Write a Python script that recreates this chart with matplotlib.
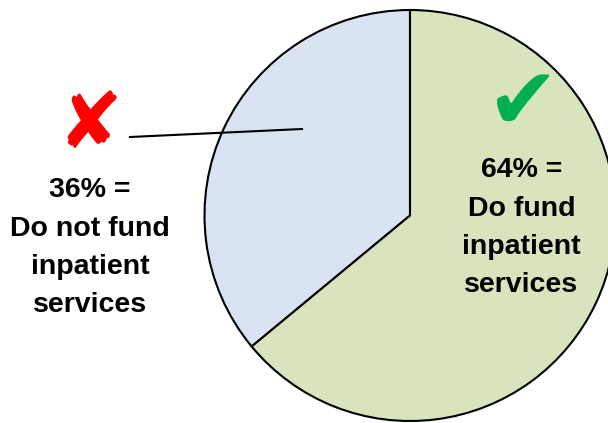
import matplotlib.pyplot as plt

# slice shares (%), first one goes counter-clockwise from the top
shares = [36, 64]
slice_colors = ['#DAE3F3', '#D7E4BD']
left_lines = ['36% =', 'Do not fund', 'inpatient', 'services']
right_lines = ['64% =', 'Do fund', 'inpatient', 'services']

W, H = 608, 423
fig = plt.figure(figsize=(W / 100, H / 100), dpi=100)
ax = fig.add_axes([0, 0, 1, 1])

# pie in pixel-ish coordinates (y measured from the bottom)
ax.pie(shares, colors=slice_colors, startangle=90, counterclock=True,
       center=(410, H - 215.5), radius=205.5,
       wedgeprops=dict(edgecolor='black', linewidth=1.5))
ax.set_xlim(0, W)
ax.set_ylim(0, H)
ax.set_aspect('equal')
ax.axis('off')

def label(lines, x, y0, step=38.5):
    for i, s in enumerate(lines):
        ax.text(x, H - (y0 + i * step), s, ha='center', va='baseline',
                fontsize=20.5, fontweight='bold', family='Liberation Sans')

label(left_lines, 90, 197)
label(right_lines, 521.5, 177)

# leader line from the left label into the blue slice
ax.plot([130, 302], [H - 137, H - 129], color='black', lw=1.5)

# red cross and green tick
ax.text(90, H - 126, '\u2718', color='#FF0000', fontsize=56,
        ha='center', va='center', family='DejaVu Sans')
ax.text(522, H - 105, '\u2714', color='#00B050', fontsize=62,
        ha='center', va='center', family='DejaVu Sans')

fig.savefig('out.png', dpi=100)
